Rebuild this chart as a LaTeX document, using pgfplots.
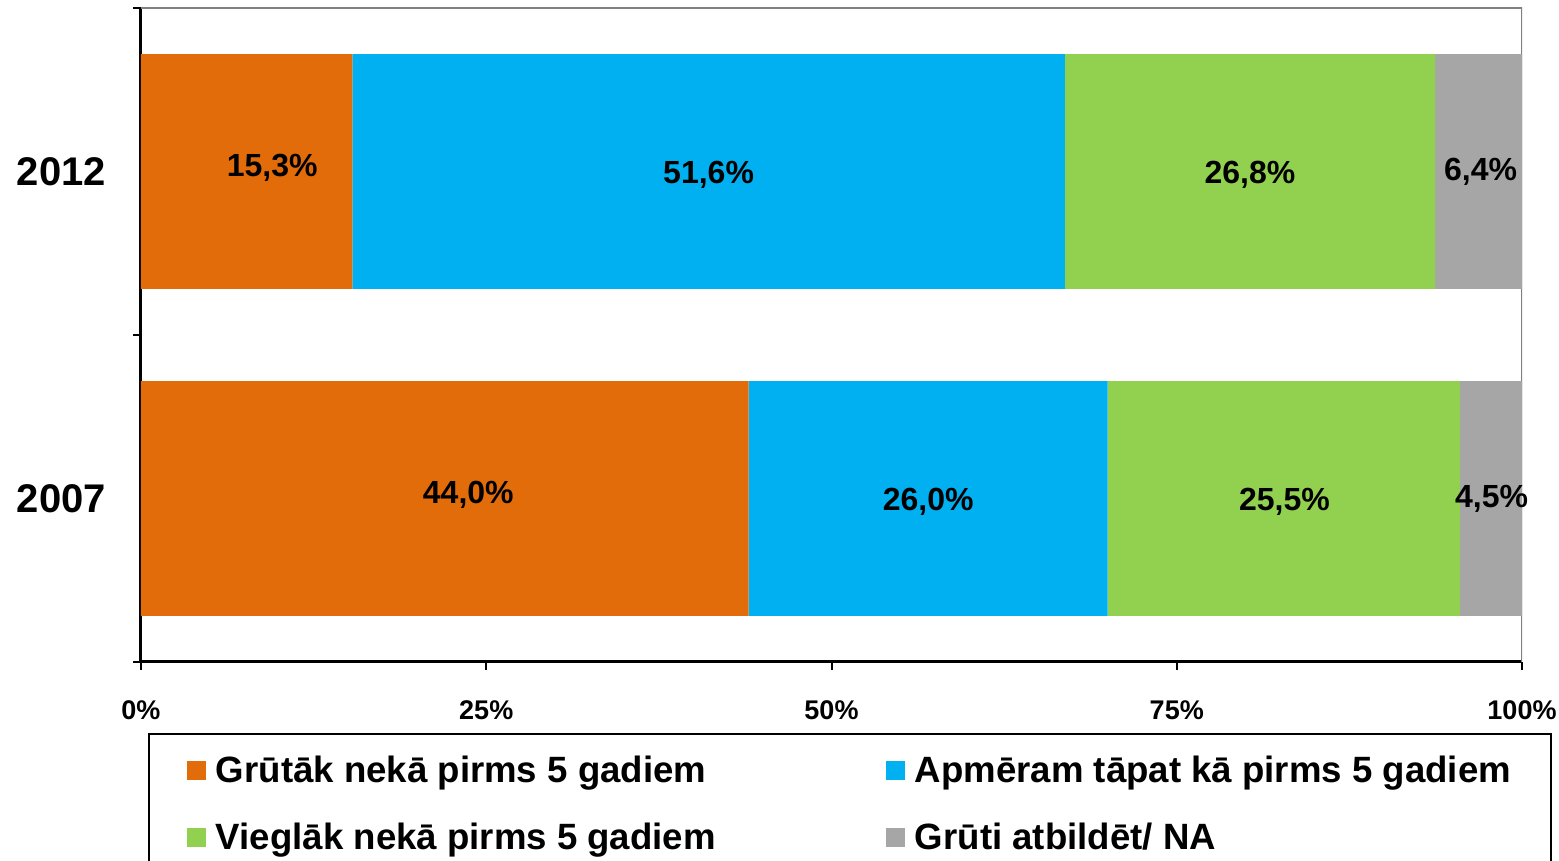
\documentclass[border=0pt]{standalone}
\usepackage{pgfplots}
\usepackage{pgfplotstable}
\pgfplotsset{compat=1.18}
\usepackage{fontspec}
\setmainfont{Liberation Sans}
\definecolor{cOr}{HTML}{E36C0A}
\definecolor{cBl}{HTML}{00B0F0}
\definecolor{cGr}{HTML}{92D050}
\definecolor{cGy}{HTML}{A6A6A6}
\definecolor{cFrame}{RGB}{128,128,128}

\pgfplotstableread{
y a b c d
0 44.0 26.0 25.5 4.5
1 15.3 51.6 26.8 6.4
}\bars
\pgfplotstableread{
x y v
9.5 1.01 15.3
41.1 0.99 51.6
80.3 0.99 26.8
97.0 1.00 6.4
23.7 0.01 44.0
57.0 -0.01 26.0
82.8 -0.01 25.5
97.8 0.00 4.5
}\labels

\pgfplotsset{
  base/.style={scale only axis, width=690.5pt, height=327pt,
    xmin=0, xmax=100, ymin=-0.5, ymax=1.5, at={(0pt,0pt)}, anchor=south west},
  sqleg/.style={legend image code/.code={\fill[##1] (0pt,-4.75pt) rectangle (9.5pt,4.75pt);}}
}

\begin{document}
\begin{tikzpicture}[font=\bfseries]
\begin{axis}[base,
  xbar stacked, bar width=0.718,
  axis x line*=bottom, axis y line*=left,
  axis line style={-, line width=1.5pt, black},
  xtick={0,25,50,75,100}, xticklabels={0\%,25\%,50\%,75\%,100\%},
  xticklabel style={font=\bfseries\fontsize{13.5}{16}\selectfont, yshift=-12pt},
  ytick={-0.5,0.5,1.5}, yticklabels={},
  extra y ticks={0,1}, extra y tick labels={2007,2012},
  extra y tick style={major tick length=0pt,
    yticklabel style={font=\bfseries\fontsize{20}{24}\selectfont, xshift=-14pt}},
  tick align=outside, major tick length=4pt, tick style={line width=1pt, black},
  legend columns=2, legend cell align=left,
  legend style={at={(axis description cs:0.00507,-0.1085)}, anchor=north west,
    draw=black, line width=1pt, inner xsep=19pt, inner ysep=9pt,
    font=\bfseries\fontsize{18.3}{22}\selectfont, row sep=14.5pt,
    /tikz/every even column/.append style={column sep=0pt}},
]
\addplot[fill=cOr, draw=none, sqleg] table[x=a, y=y] {\bars};
\addlegendentry{\makebox[336pt][l]{\hspace{3pt}Grūtāk nekā pirms 5 gadiem}}
\addplot[fill=cBl, draw=none, sqleg] table[x=b, y=y] {\bars};
\addlegendentry{\makebox[300pt][l]{\hspace{3pt}Apmēram tāpat kā pirms 5 gadiem}}
\addplot[fill=cGr, draw=none, sqleg] table[x=c, y=y] {\bars};
\addlegendentry{\makebox[336pt][l]{\hspace{3pt}Vieglāk nekā pirms 5 gadiem}}
\addplot[fill=cGy, draw=none, sqleg] table[x=d, y=y] {\bars};
\addlegendentry{\makebox[300pt][l]{\hspace{3pt}Grūti atbildēt/ NA}}
\draw[cFrame, line width=1pt] (rel axis cs:0,1) -- (rel axis cs:1,1) -- (rel axis cs:1,0);
\end{axis}
\begin{axis}[base, hide axis, clip=false]
\addplot[only marks, mark=none, point meta=explicit,
  nodes near coords={\pgfmathprintnumber[fixed, fixed zerofill, precision=1, use comma, assume math mode=true]{\pgfplotspointmeta}\%},
  nodes near coords align=center,
  every node near coord/.append style={font=\bfseries\fontsize{16}{19}\selectfont, anchor=center}]
  table[x=x, y=y, meta=v] {\labels};
\end{axis}
\pgfresetboundingbox
\useasboundingbox (-70.5pt,-99.5pt) rectangle (709pt,331pt);
\end{tikzpicture}
\end{document}
